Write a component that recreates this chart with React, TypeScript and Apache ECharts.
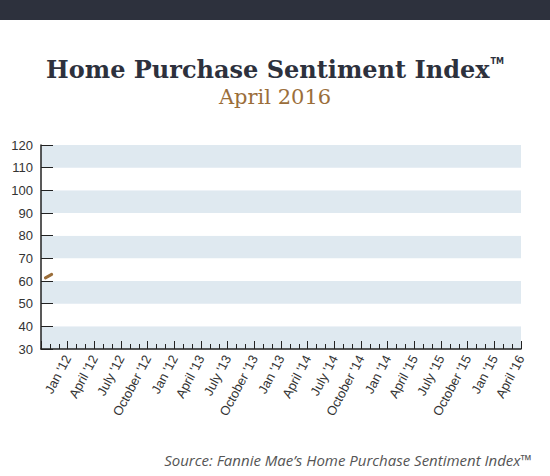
import React, { useEffect, useRef } from "react";
import * as echarts from "echarts";

const tickLabels = [
  "Jan '12", "April '12", "July '12", "October '12",
  "Jan '12", "April '13", "July '13", "October '13",
  "Jan '13", "April '14", "July '14", "October '14",
  "Jan '14", "April '15", "July '15", "October '15",
  "Jan '15", "April '16",
];
// months counted from October 2011 (axis start)
const monthIndex = [0.5, 1.2];
const indexValues = [61.4, 62.9];

const yMin = 30;
const yMax = 120;
const yStep = 10;
const monthsTotal = 54;

export default function App() {
  const ref = useRef<HTMLDivElement>(null);
  useEffect(() => {
    if (!ref.current) return;
    const chart = echarts.init(ref.current, null, { renderer: "svg" });
    chart.setOption({
      animation: false,
      backgroundColor: "#ffffff",
      title: {
        left: "center",
        top: 52,
        text: "{a|Home Purchase Sentiment Index}{b|TM}",
        subtext: "April 2016",
        itemGap: 5,
        textStyle: {
          rich: {
            a: { fontFamily: "DejaVu Serif", fontWeight: "bold", fontSize: 24, color: "#2d313d" },
            b: { fontFamily: "DejaVu Sans", fontSize: 8, color: "#2d313d", verticalAlign: "top", padding: [0, 0, 16, 1] },
          },
        },
        subtextStyle: { fontFamily: "DejaVu Serif", fontSize: 21, color: "#9b6e3a" },
      },
      graphic: [
        { type: "rect", left: 0, top: 0, shape: { width: 550, height: 20 }, style: { fill: "#2d313d" } },
        {
          type: "text",
          right: 18,
          top: 452,
          style: {
            text: "Source: Fannie Mae’s Home Purchase Sentiment Index™",
            font: "italic 15px 'Open Sans'",
            fill: "#555555",
          },
        },
      ],
      grid: { left: 41, right: 29, top: 145, bottom: 127, containLabel: false },
      xAxis: {
        type: "value",
        min: 0,
        max: monthsTotal,
        interval: 3,
        axisLine: { show: true, lineStyle: { color: "#222", width: 1.5 } },
        axisTick: { show: true, inside: true, length: 8, lineStyle: { color: "#222" } },
        minorTick: { show: true, splitNumber: 3, length: 5, lineStyle: { color: "#222" } },
        splitLine: { show: false },
        axisLabel: {
          rotate: 62,
          margin: 7,
          fontFamily: "Liberation Sans",
          fontSize: 13,
          color: "#333",
          showMinLabel: false,
          formatter: (v: number) => (v >= 3 ? tickLabels[Math.round(v / 3) - 1] ?? "" : ""),
        },
      },
      yAxis: {
        type: "value",
        min: yMin,
        max: yMax,
        interval: yStep,
        axisLine: { show: true, lineStyle: { color: "#222", width: 1.5 } },
        axisTick: { show: true, inside: true, length: 12, lineStyle: { color: "#222" } },
        splitLine: { show: false },
        splitArea: { show: true, areaStyle: { color: ["#dfe9f0", "#ffffff"] } },
        axisLabel: { margin: 8, fontFamily: "Liberation Sans", fontSize: 13, color: "#333" },
      },
      series: [
        {
          type: "line",
          data: monthIndex.map((m, i) => [m, indexValues[i]]),
          symbol: "none",
          lineStyle: { color: "#9b6e3a", width: 3, cap: "round" },
        },
      ],
    });
    return () => chart.dispose();
  }, []);
  return (
    <div
      ref={ref}
      style={{ position: "fixed", left: 0, top: 0, width: 550, height: 476 }}
    />
  );
}
